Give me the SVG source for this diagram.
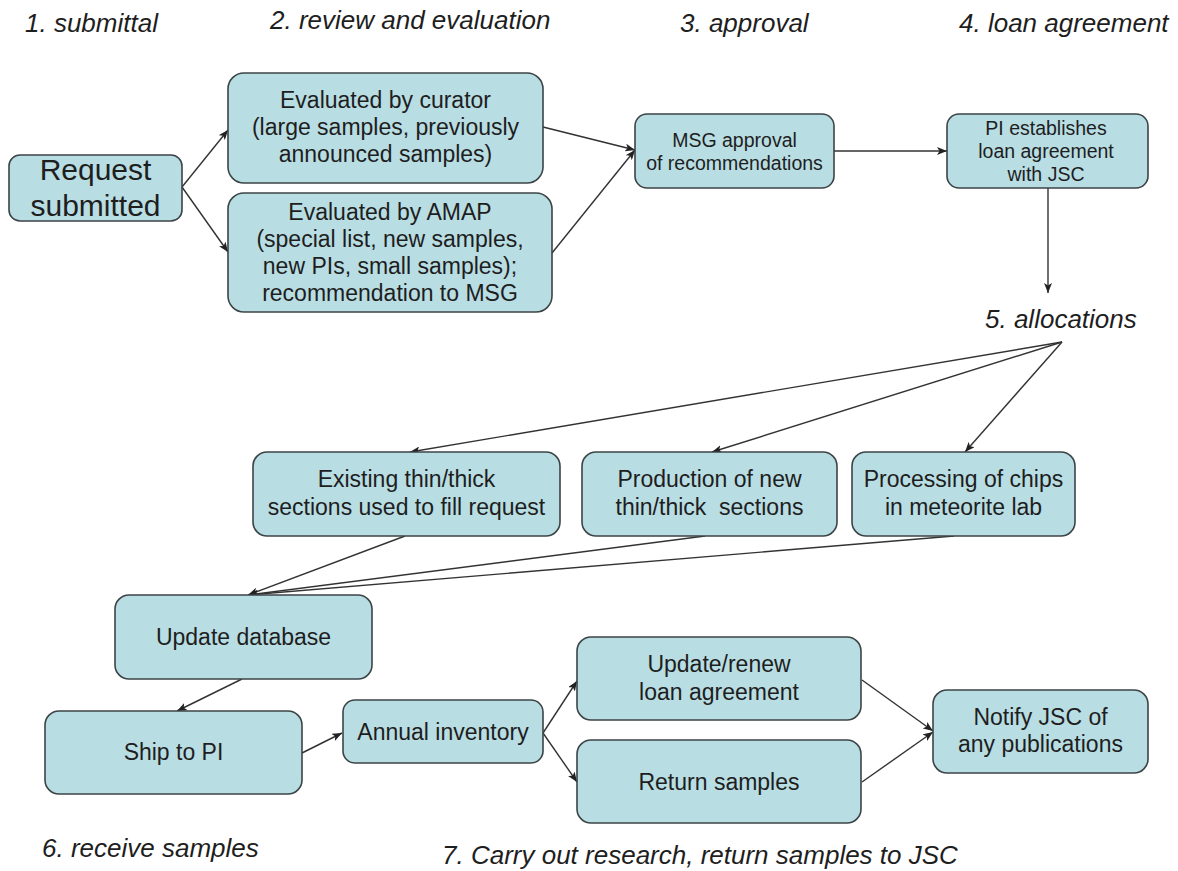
<svg xmlns="http://www.w3.org/2000/svg" width="1178" height="871" viewBox="0 0 1178 871">
<defs>
<marker id="ah" viewBox="0 0 10 8" refX="10" refY="4" markerWidth="10" markerHeight="8" markerUnits="userSpaceOnUse" orient="auto">
<path d="M0,0 L10,4 L0,8 L2.5,4 z" fill="#222"/>
</marker>
<style>
.box{fill:#b8dde3;stroke:#3c4446;stroke-width:1.6}
.t{font-family:"Liberation Sans",Arial,sans-serif;fill:#1e1e1e;text-anchor:middle}
.title{font-family:"Liberation Sans",Arial,sans-serif;font-style:italic;font-size:26px;fill:#1e1e1e}
.c{fill:none;stroke:#333;stroke-width:1.4;marker-end:url(#ah)}
</style>
</defs>
<rect width="1178" height="871" fill="#fff"/>

<g id="titles">
<text class="title" x="25" y="32">1. submittal</text>
<text class="title" x="270" y="29">2. review and evaluation</text>
<text class="title" x="680" y="32">3. approval</text>
<text class="title" x="959" y="32">4. loan agreement</text>
<text class="title" x="985" y="328">5. allocations</text>
<text class="title" x="42" y="857">6. receive samples</text>
<text class="title" x="442" y="864">7. Carry out research, return samples to JSC</text>
</g>

<g id="connectors">
<line class="c" x1="182" y1="187" x2="228" y2="130"/>
<line class="c" x1="182" y1="187" x2="228" y2="252"/>
<line class="c" x1="543" y1="127" x2="635" y2="150"/>
<line class="c" x1="552" y1="253" x2="635" y2="150"/>
<line class="c" x1="834" y1="151" x2="947" y2="151"/>
<line class="c" x1="1048" y1="188" x2="1048" y2="293"/>
<line class="c" x1="1062" y1="342" x2="410" y2="452"/>
<line class="c" x1="1062" y1="342" x2="712" y2="452"/>
<line class="c" x1="1062" y1="342" x2="965" y2="452"/>
<line class="c" x1="405" y1="536" x2="248" y2="595"/>
<line class="c" x1="705" y1="536" x2="248" y2="595"/>
<line class="c" x1="954" y1="536" x2="248" y2="595"/>
<line class="c" x1="242" y1="679" x2="177" y2="711"/>
<line class="c" x1="302" y1="753" x2="342" y2="733"/>
<line class="c" x1="543" y1="733" x2="577" y2="681"/>
<line class="c" x1="543" y1="733" x2="577" y2="782"/>
<line class="c" x1="862" y1="680" x2="933" y2="731"/>
<line class="c" x1="862" y1="782" x2="933" y2="732"/>
</g>

<g id="request">
<rect class="box" x="9" y="155" width="173" height="66" rx="11"/>
<text class="t" font-size="30" x="95.5" y="180">Request</text>
<text class="t" font-size="30" x="95.5" y="216">submitted</text>
</g>

<g id="curator">
<rect class="box" x="228" y="73" width="315" height="110" rx="16"/>
<text class="t" font-size="23" x="385.5" y="108">Evaluated by curator</text>
<text class="t" font-size="23" x="385.5" y="135">(large samples, previously</text>
<text class="t" font-size="23" x="385.5" y="162">announced samples)</text>
</g>

<g id="amap">
<rect class="box" x="228" y="193" width="324" height="119" rx="16"/>
<text class="t" font-size="23" x="390" y="220">Evaluated by AMAP</text>
<text class="t" font-size="23" x="390" y="247">(special list, new samples,</text>
<text class="t" font-size="23" x="390" y="274">new PIs, small samples);</text>
<text class="t" font-size="23" x="390" y="301">recommendation to MSG</text>
</g>

<g id="msg">
<rect class="box" x="635" y="114" width="199" height="74" rx="12"/>
<text class="t" font-size="19.5" x="734.5" y="147">MSG approval</text>
<text class="t" font-size="19.5" x="734.5" y="170">of recommendations</text>
</g>

<g id="pi">
<rect class="box" x="947" y="114" width="201" height="74" rx="12"/>
<text class="t" font-size="19.5" x="1046" y="135">PI establishes</text>
<text class="t" font-size="19.5" x="1046" y="158">loan agreement</text>
<text class="t" font-size="19.5" x="1046" y="181">with JSC</text>
</g>

<g id="existing">
<rect class="box" x="253" y="452" width="307" height="84" rx="14"/>
<text class="t" font-size="23" x="406.5" y="487">Existing thin/thick</text>
<text class="t" font-size="23" x="406.5" y="515">sections used to fill request</text>
</g>

<g id="production">
<rect class="box" x="582" y="452" width="255" height="84" rx="14"/>
<text class="t" font-size="23" x="709.5" y="487">Production of new</text>
<text class="t" font-size="23" x="709.5" y="515" xml:space="preserve">thin/thick  sections</text>
</g>

<g id="processing">
<rect class="box" x="852" y="452" width="223" height="84" rx="14"/>
<text class="t" font-size="23" x="963.5" y="487">Processing of chips</text>
<text class="t" font-size="23" x="963.5" y="515">in meteorite lab</text>
</g>

<g id="update-db">
<rect class="box" x="115" y="595" width="257" height="84" rx="14"/>
<text class="t" font-size="23" x="243.5" y="645">Update database</text>
</g>

<g id="ship">
<rect class="box" x="45" y="711" width="257" height="83" rx="14"/>
<text class="t" font-size="23" x="173.5" y="760">Ship to PI</text>
</g>

<g id="annual">
<rect class="box" x="343" y="700" width="200" height="63" rx="12"/>
<text class="t" font-size="23" x="443" y="740">Annual inventory</text>
</g>

<g id="renew">
<rect class="box" x="577" y="637" width="284" height="83" rx="14"/>
<text class="t" font-size="23" x="719" y="672">Update/renew</text>
<text class="t" font-size="23" x="719" y="700">loan agreement</text>
</g>

<g id="return">
<rect class="box" x="577" y="740" width="284" height="83" rx="14"/>
<text class="t" font-size="23" x="719" y="790">Return samples</text>
</g>

<g id="notify">
<rect class="box" x="933" y="690" width="215" height="83" rx="14"/>
<text class="t" font-size="23" x="1040.5" y="725">Notify JSC of</text>
<text class="t" font-size="23" x="1040.5" y="752">any publications</text>
</g>
</svg>
